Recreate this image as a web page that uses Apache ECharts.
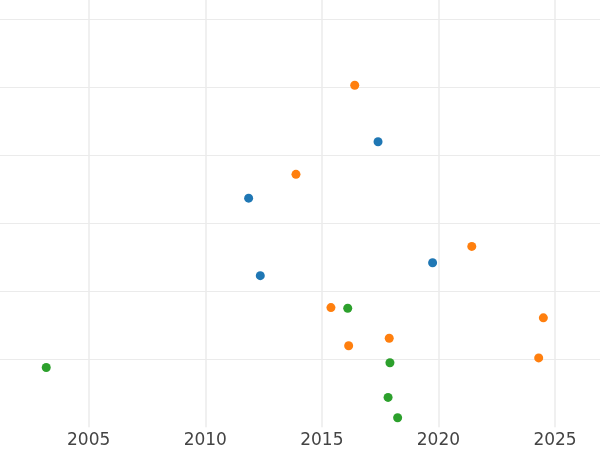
<!DOCTYPE html>
<html>
<head>
<meta charset="utf-8">
<script src="https://cdn.jsdelivr.net/npm/echarts@6/dist/echarts.min.js"></script>
<style>html,body{margin:0;padding:0;background:#fff}#c{width:600px;height:450px}</style>
</head>
<body>
<div id="c"></div>
<script>
var xTicks = [2005, 2010, 2015, 2020, 2025];
var blueX = [2017.41, 2011.86, 2012.36, 2019.75];
var blueY = [4.20, 3.37, 2.23, 2.42];
var orangeX = [2016.41, 2013.89, 2021.43, 2015.39, 2024.50, 2017.89, 2016.15, 2024.30];
var orangeY = [5.03, 3.72, 2.66, 1.76, 1.61, 1.31, 1.20, 1.02];
var greenX = [2003.18, 2016.11, 2017.92, 2017.84, 2018.25];
var greenY = [0.88, 1.75, 0.95, 0.44, 0.14];

function pairs(xs, ys) { return xs.map(function (x, i) { return [x, ys[i]]; }); }

var chart = echarts.init(document.getElementById('c'), null, {renderer: 'canvas'});
var gridColor = '#ebebeb';
chart.setOption({
  animation: false,
  grid: { left: -27.9, right: -71.6, top: -48.7, bottom: 22.7, containLabel: false, outerBoundsMode: 'none' },
  xAxis: {
    type: 'value', min: 2000, max: 2030, interval: 5,
    axisLine: { show: false }, axisTick: { show: false },
    axisLabel: {
      margin: 5, fontFamily: 'DejaVu Sans', fontSize: 17, color: '#444',
      formatter: function (v) { return xTicks.indexOf(v) >= 0 ? String(v) : ''; }
    },
    splitLine: { show: true, lineStyle: { color: gridColor, width: 1.5 } }
  },
  yAxis: {
    type: 'value', min: 0, max: 7, interval: 1,
    axisLine: { show: false }, axisTick: { show: false }, axisLabel: { show: false },
    splitLine: { show: true, showMinLine: false, lineStyle: { color: gridColor, width: 1.2 } }
  },
  series: [
    { type: 'scatter', data: pairs(blueX, blueY), symbolSize: 9, itemStyle: { color: '#1f77b4', opacity: 1 } },
    { type: 'scatter', data: pairs(orangeX, orangeY), symbolSize: 9, itemStyle: { color: '#ff7f0e', opacity: 1 } },
    { type: 'scatter', data: pairs(greenX, greenY), symbolSize: 9, itemStyle: { color: '#2ca02c', opacity: 1 } }
  ]
});
</script>
</body>
</html>
